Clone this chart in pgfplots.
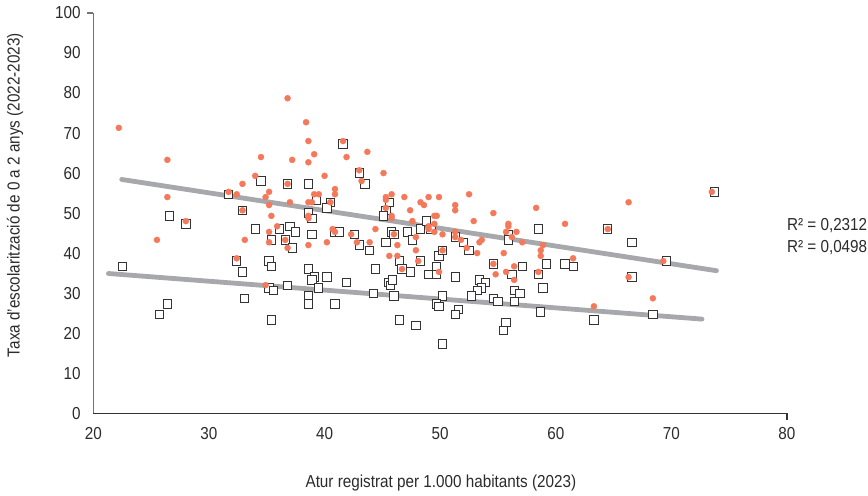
\documentclass[border=0pt]{standalone}
\usepackage{pgfplots}
\pgfplotsset{compat=1.18}
\usepackage{fontspec}
\setmainfont{Liberation Sans}[FakeStretch=0.88]
\definecolor{orng}{HTML}{F4785A}
\definecolor{trend}{HTML}{A7A8AB}
\definecolor{sqc}{HTML}{333333}
\definecolor{txt}{HTML}{2B2B2B}
\begin{document}
\begin{tikzpicture}
\path[use as bounding box] (-70pt,-61.5pt) rectangle (580.75pt,309.75pt);
\begin{axis}[
  width=520pt, height=300pt, scale only axis,
  xmin=20, xmax=80, ymin=0, ymax=100,
  xtick={20,30,...,80}, ytick={0,10,...,100},
  axis x line*=bottom, axis y line*=left,
  major tick length=0pt,
  x axis line style={color=sqc, line width=0.9pt, -},
  y axis line style={color=black!55, line width=0.9pt, -},
  /pgf/number format/assume math mode=true,
  tick label style={font=\fontsize{13}{15}\selectfont, text=txt},
  xticklabel style={yshift=-7pt},
  yticklabel style={xshift=-6pt},
  label style={font=\fontsize{13}{15}\selectfont, text=txt},
  xlabel={Atur registrat per 1.000 habitants (2023)},
  ylabel={Taxa d'escolarització de 0 a 2 anys (2022-2023)},
  xlabel style={at={(axis description cs:0.501,-0.175)}, anchor=center},
  ylabel style={at={(axis description cs:-0.113,0.545)}, anchor=center},
  clip=false,
]
% trend lines
\addplot[trend, line width=3.6pt, line cap=round] coordinates {(22.45,58.4) (73.9,35.6)};
\addplot[trend, line width=3.6pt, line cap=round] coordinates {(21.3,34.9) (72.65,23.5)};
% squares
\addplot[sqc, only marks, mark=square*, mark size=3.1pt, mark options={draw=sqc, fill=white, line width=0.7pt}] coordinates {
(22.5,36.7) (26.6,49.3) (28.0,47.3) (26.4,27.3) (25.7,24.7) (31.7,54.7) (32.9,50.7) (32.4,38) (32.9,35.3) (33.1,28.7)
(34.5,58) (34.0,46) (35.4,43.3) (35.2,38) (35.4,36.7) (35.2,31.3) (35.6,30.7) (35.4,23.3) (36.8,57.3) (36.1,46)
(37.0,46.7) (37.5,45.3) (36.6,43.3) (37.2,41.3) (36.8,32) (38.6,57.3) (39.3,53.3) (40.5,52.7) (40.2,51.3) (38.6,50)
(38.9,48.7) (38.9,44.7) (40.9,45.3) (41.3,45.3) (38.6,36) (39.1,34) (40.2,34) (38.9,33.3) (39.5,31.3) (38.6,29.3)
(38.6,27.3) (40.9,27.3) (41.9,32.7) (41.6,67.3) (43.0,60) (43.5,57.3) (42.6,44.7) (43.0,42) (43.9,40.7) (44.4,36)
(44.2,30) (45.3,50.7) (45.6,52.7) (45.1,49.3) (45.8,45.3) (46.0,44.7) (45.3,42.7) (46.5,38) (46.7,36) (45.5,32.7)
(45.7,32) (45.9,33.3) (46.0,29.3) (46.5,23.3) (47.9,22) (47.2,45.3) (47.6,43.3) (48.3,46) (48.8,48) (49.2,46)
(48.3,38) (47.4,35.3) (49.9,39.3) (50.2,40.7) (49.7,36.7) (49.0,34.7) (49.7,34.7) (50.2,29.3) (49.7,27.3) (49.9,26.7)
(50.2,17.3) (51.3,44) (52.0,42.7) (52.5,40.7) (51.3,34) (51.6,26) (51.3,24.7) (53.4,33.3) (53.9,32.7) (53.6,31.3)
(53.2,30.7) (52.7,29.3) (54.6,37.3) (54.6,28.7) (55.0,28) (55.9,44.7) (55.9,43.3) (57.1,36.7) (56.2,34.7) (56.4,30.7)
(56.9,30) (56.4,28) (55.7,22.7) (55.5,20.7) (58.5,46) (58.5,34.7) (59.2,37.3) (58.9,31.3) (58.7,25.3) (60.8,37.3)
(61.5,36.7) (63.3,23.3) (64.5,46) (66.6,42.7) (66.6,34) (68.4,24.7) (69.6,38) (73.7,55.3)
};
% dots
\addplot[orng, only marks, mark=*, mark size=2.3pt, mark options={draw=orng, fill=orng, line width=0.2pt}] coordinates {
(22.2,71.3) (26.4,63.3) (26.4,54) (25.5,43.3) (28.0,48) (31.7,55.3) (32.4,54.7) (32.9,57.3) (32.9,50.7) (33.1,43.3)
(32.4,38.7) (34.0,59.3) (34.5,64) (34.9,54) (35.2,55.3) (35.2,52) (35.4,49.3) (35.9,46.7) (35.2,45.3) (35.2,42.7)
(34.9,32) (36.8,78.7) (37.2,63.3) (36.8,57.3) (37.0,52.7) (36.6,43.3) (36.8,41.3) (38.4,72.7) (38.6,68) (39.1,64.7)
(38.6,62.7) (40.0,59.3) (40.9,56) (40.9,54.7) (39.1,54.7) (39.5,54.7) (38.6,52.7) (38.9,52.7) (40.5,52.7) (38.6,49.3)
(38.6,48.7) (40.7,46) (40.9,45.3) (40.2,42.7) (38.6,42) (41.6,68) (43.7,65.3) (41.9,64) (43.0,60.7) (45.1,60)
(43.2,58) (45.3,54) (45.3,53.3) (45.8,54.7) (45.3,51.3) (46.9,54) (48.3,52.7) (48.6,52) (49.0,54) (49.9,54)
(47.4,50.7) (45.8,49.3) (45.8,48.7) (47.6,48) (49.5,49.3) (49.7,49.3) (51.3,52) (51.3,50.7) (52.5,54.7) (54.6,50)
(52.9,48) (58.3,51.3) (55.9,47.3) (55.9,46.7) (56.6,45.3) (55.7,45.3) (56.2,44) (57.1,42.7) (58.9,42) (58.7,40.7)
(58.7,39.3) (55.5,40) (53.2,40) (53.6,43.3) (53.4,42.7) (52.3,41.3) (51.8,43.3) (51.3,45.3) (51.3,44) (50.2,44.7)
(50.2,40.7) (49.5,47.3) (49.5,45.3) (49.0,46.7) (49.0,46) (47.9,44) (47.9,40.7) (46.0,44.7) (46.3,42) (46.3,39.3)
(45.6,39.3) (44.4,46) (43.9,42.7) (42.8,42.7) (42.3,44.7) (48.1,38) (46.7,36) (49.9,35.3) (54.6,37.3) (54.8,34.7)
(55.7,35.3) (56.4,36.7) (58.5,35.3) (56.4,33.3) (66.3,52.7) (73.5,55.3) (60.8,47.3) (64.5,46) (61.5,38.7) (69.3,38)
(66.3,34) (68.4,28.7) (63.3,26.7)
};
\draw[black!55, line width=0.9pt] (axis cs:20,100) -- ++(-5pt,0pt);
\draw[sqc, line width=0.9pt] (axis cs:80,0) -- ++(0pt,-5pt);
\node[anchor=west, font=\fontsize{13}{15}\selectfont, text=txt] at (axis cs:79.6,47) {R² = 0,2312};
\node[anchor=west, font=\fontsize{13}{15}\selectfont, text=txt] at (axis cs:79.6,41.5) {R² = 0,0498};
\end{axis}
\end{tikzpicture}
\end{document}
